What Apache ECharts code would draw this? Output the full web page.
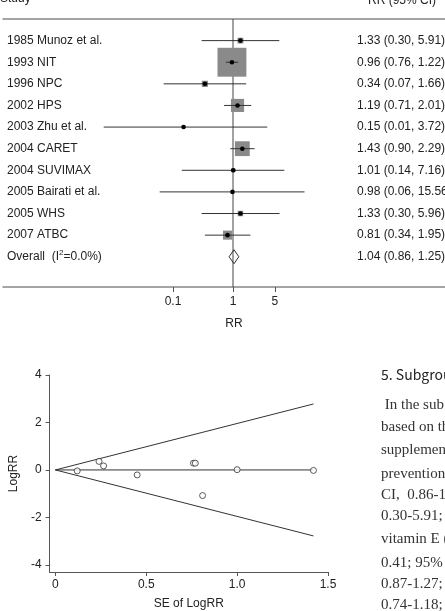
<!DOCTYPE html>
<html>
<head>
<meta charset="utf-8">
<script src="https://cdn.jsdelivr.net/npm/echarts@6/dist/echarts.min.js"></script>
<style>
  html, body { margin: 0; padding: 0; background: #fff; }
  #main { width: 445px; height: 611px; }
</style>
</head>
<body>
<div id="main"></div>
<script>
// forest plot data
const studies = ['1985 Munoz et al.', '1993 NIT', '1996 NPC', '2002 HPS', '2003 Zhu et al.',
  '2004 CARET', '2004 SUVIMAX', '2005 Bairati et al.', '2005 WHS', '2007 ATBC'];
const rr = [1.33, 0.96, 0.34, 1.19, 0.15, 1.43, 1.01, 0.98, 1.33, 0.81];
const ciLow = [0.30, 0.76, 0.07, 0.71, 0.007, 0.90, 0.14, 0.06, 0.30, 0.34];
const ciHigh = [5.91, 1.22, 1.66, 2.01, 3.72, 2.29, 7.16, 15.56, 5.96, 1.95];
const weights = [2.5, 61, 2.8, 12.6, 0.7, 16, 1.2, 0.7, 2.2, 6];
const rrText = ['1.33 (0.30, 5.91)', '0.96 (0.76, 1.22)', '0.34 (0.07, 1.66)', '1.19 (0.71, 2.01)',
  '0.15 (0.01, 3.72)', '1.43 (0.90, 2.29)', '1.01 (0.14, 7.16)', '0.98 (0.06, 15.56)',
  '1.33 (0.30, 5.96)', '0.81 (0.34, 1.95)'];
const overallEst = [0.86, 1.04, 1.25];
const overallText = '1.04 (0.86, 1.25)';
const rrTicks = [0.1, 1, 5];

// funnel plot data
const funnelSE = [0.12, 0.24, 0.265, 0.45, 0.76, 0.77, 0.81, 1.0, 1.42];
const funnelLogRR = [-0.04, 0.36, 0.17, -0.21, 0.285, 0.285, -1.08, 0.01, -0.02];
const limitSE = [0, 1.42];
const limitUpper = [0, 2.78];
const limitLower = [0, -2.78];
const seTicks = [0, 0.5, 1, 1.5];
const logTicks = [-4, -2, 0, 2, 4];

// bit of the article text beside the funnel plot
const sideHead = '5. Subgroup';
const sideLines = [' In the sub', 'based on th', 'supplemen', 'prevention', 'CI,  0.86-1',
  '0.30-5.91;', 'vitamin E (', '0.41; 95% C', '0.87-1.27;', '0.74-1.18;'];

const chart = echarts.init(document.getElementById('main'));
const txt = '#222';
const font = 'Liberation Sans, Arial, sans-serif';

const rowData = studies.map((s, i) => [Math.log10(rr[i]), i + 1, Math.log10(ciLow[i]), Math.log10(ciHigh[i]), weights[i], i]);

function renderRow(params, api) {
  const i = api.value(5);
  const c = api.coord([api.value(0), api.value(1)]);
  const lo = api.coord([api.value(2), api.value(1)])[0];
  const hi = api.coord([api.value(3), api.value(1)])[0];
  const s = Math.max(3, 3.7 * Math.sqrt(api.value(4)));
  return {
    type: 'group',
    children: [
      { type: 'rect', shape: { x: c[0] - s / 2, y: c[1] - s / 2, width: s, height: s }, style: { fill: '#8a8a8a' } },
      { type: 'line', shape: { x1: lo, y1: c[1], x2: hi, y2: c[1] }, style: { stroke: '#333', lineWidth: 1 } },
      { type: 'circle', shape: { cx: c[0], cy: c[1], r: 2.3 }, style: { fill: '#000' } },
      { type: 'text', x: 7, y: c[1], style: { text: studies[i], fill: txt, font: '12px ' + font, verticalAlign: 'middle' } },
      { type: 'text', x: 357, y: c[1], style: { text: rrText[i], fill: txt, font: '12px ' + font, verticalAlign: 'middle' } }
    ]
  };
}

function renderOverall(params, api) {
  const row = api.value(1);
  const lo = api.coord([api.value(0), row]);
  const mid = api.coord([api.value(2), row]);
  const hi = api.coord([api.value(3), row]);
  const h = 7;
  return {
    type: 'group',
    children: [
      { type: 'polygon', shape: { points: [[lo[0], lo[1]], [mid[0], mid[1] - h], [hi[0], hi[1]], [mid[0], mid[1] + h]] },
        style: { fill: 'none', stroke: '#333', lineWidth: 1 } },
      { type: 'text', x: 7, y: mid[1], style: { text: 'Overall  (I{s|2}=0.0%)', fill: txt, font: '12px ' + font, verticalAlign: 'middle',
        rich: { s: { fontSize: 8, verticalAlign: 'top', padding: [0, 0, 8, 0], fontFamily: font } } } },
      { type: 'text', x: 357, y: mid[1], style: { text: overallText, fill: txt, font: '12px ' + font, verticalAlign: 'middle' } }
    ]
  };
}

const sideGraphics = [
  { type: 'text', left: 0, top: -7, style: { text: 'Study', fill: txt, font: '12px ' + font } },
  { type: 'text', left: 368, top: -5, style: { text: 'RR (95% CI)', fill: txt, font: '12px ' + font } },
  { type: 'text', left: 381, top: 368, style: { text: sideHead, fill: '#222', font: '14px Noto Sans CJK KR, Noto Sans, sans-serif' } }
].concat(sideLines.map((t, k) => ({
  type: 'text', left: 381, top: [398, 420, 443, 467, 488, 509, 532, 556, 577, 598][k],
  style: { text: t, fill: '#333', font: '15px Liberation Serif, DejaVu Serif, serif' }
})));

chart.setOption({
  animation: false,
  backgroundColor: '#fff',
  textStyle: { fontFamily: font },
  grid: [
    { left: 3, right: 0, top: 19, bottom: 324 },
    { left: 43, right: 117, top: 375, bottom: 39 }
  ],
  xAxis: [
    {
      gridIndex: 0, type: 'value', min: -3.833, max: 3.533, position: 'bottom',
      splitLine: { show: false },
      axisLine: { onZero: false, lineStyle: { color: '#888', width: 1.5 } },
      axisTick: { customValues: rrTicks.map(v => Math.log10(v)), length: 5, lineStyle: { color: '#555' } },
      axisLabel: { customValues: rrTicks.map(v => Math.log10(v)), margin: 9, color: txt, fontSize: 12,
        formatter: v => String(Math.round(Math.pow(10, v) * 10) / 10) },
      name: 'RR', nameLocation: 'middle', nameGap: 31, nameTextStyle: { color: txt, fontSize: 12, padding: [0, 0, 0, 20] }
    },
    {
      gridIndex: 0, type: 'value', min: -3.833, max: 3.533, position: 'top',
      splitLine: { show: false }, axisTick: { show: false }, axisLabel: { show: false },
      axisLine: { onZero: false, lineStyle: { color: '#888', width: 1.5 } }
    },
    {
      gridIndex: 1, type: 'value', min: -0.032, max: 1.5,
      splitLine: { show: false },
      axisLine: { onZero: false, lineStyle: { color: '#555', width: 1 } },
      axisTick: { customValues: seTicks, length: 4, lineStyle: { color: '#555' } },
      axisLabel: { customValues: seTicks, margin: 7, color: txt, fontSize: 12,
        formatter: v => v === 0 ? '0' : v.toFixed(1) },
      name: 'SE of LogRR', nameLocation: 'middle', nameGap: 26, nameTextStyle: { color: txt, fontSize: 12 }
    }
  ],
  yAxis: [
    { gridIndex: 0, type: 'value', inverse: true, min: 0, max: 12.4, show: false },
    {
      gridIndex: 1, type: 'value', min: -4.3, max: 4,
      splitLine: { show: false },
      axisLine: { show: true, onZero: false, lineStyle: { color: '#555', width: 1 } },
      axisTick: { show: true, customValues: logTicks, length: 4, lineStyle: { color: '#555' } },
      axisLabel: { customValues: logTicks, margin: 8, color: txt, fontSize: 12 },
      name: 'LogRR', nameLocation: 'middle', nameRotate: 90, nameGap: 26, nameTextStyle: { color: txt, fontSize: 12 }
    }
  ],
  graphic: sideGraphics,
  series: [
    {
      type: 'line', xAxisIndex: 0, yAxisIndex: 0, data: [[0, 0], [0, 12.4]], symbol: 'none',
      lineStyle: { color: '#444', width: 1 }, z: 1, silent: true
    },
    {
      type: 'custom', xAxisIndex: 0, yAxisIndex: 0, data: rowData, renderItem: renderRow, clip: false, z: 3
    },
    {
      type: 'custom', xAxisIndex: 0, yAxisIndex: 0, clip: false, z: 3,
      data: [[Math.log10(overallEst[0]), 11, Math.log10(overallEst[1]), Math.log10(overallEst[2])]],
      renderItem: renderOverall
    },
    {
      type: 'line', xAxisIndex: 2, yAxisIndex: 1, data: limitSE.map((s, k) => [s, limitUpper[k]]),
      symbol: 'none', lineStyle: { color: '#333', width: 1 }
    },
    {
      type: 'line', xAxisIndex: 2, yAxisIndex: 1, data: limitSE.map((s, k) => [s, limitLower[k]]),
      symbol: 'none', lineStyle: { color: '#333', width: 1 }
    },
    {
      type: 'line', xAxisIndex: 2, yAxisIndex: 1, data: limitSE.map(s => [s, 0]),
      symbol: 'none', lineStyle: { color: '#333', width: 1 }
    },
    {
      type: 'scatter', xAxisIndex: 2, yAxisIndex: 1, data: funnelSE.map((s, k) => [s, funnelLogRR[k]]),
      symbol: 'circle', symbolSize: 6, itemStyle: { color: '#fff', borderColor: '#333', borderWidth: 1 }, z: 4
    }
  ]
});
</script>
</body>
</html>
